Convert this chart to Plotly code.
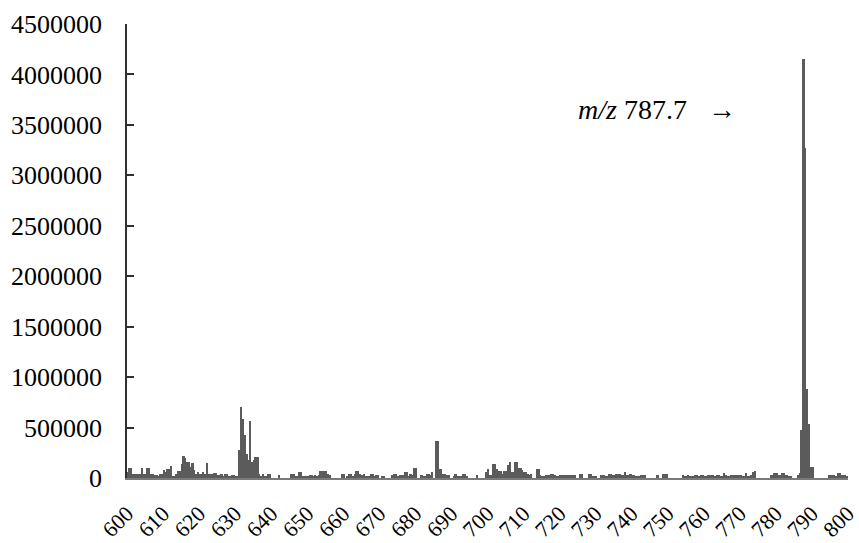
import plotly.graph_objects as go

# Mass spectrum, m/z 600-800, binned in 0.5 m/z steps (bin centres 600.25 ... 799.75)
mz_start = 600.25
mz_step = 0.5

# Intensity per bin, in thousands of counts; one row per 10 m/z units
int_600 = [60, 100, 100, 43, 43, 43, 43, 43, 100, 40, 40, 100, 100, 43, 43, 27, 27, 10, 43, 43]
int_610 = [76, 60, 86, 86, 119, 10, 10, 43, 66, 66, 142, 218, 198, 158, 158, 109, 152, 76, 43, 60]
int_620 = [43, 43, 60, 43, 150, 43, 43, 43, 53, 53, 26, 26, 43, 10, 43, 43, 10, 10, 26, 26]
int_630 = [10, 20, 274, 700, 582, 426, 241, 175, 562, 158, 175, 208, 208, 43, 10, 43, 10, 10, 43, 43]
int_640 = [0, 0, 0, 0, 26, 0, 0, 0, 0, 0, 0, 43, 43, 10, 10, 60, 60, 10, 10, 10]
int_650 = [10, 26, 26, 10, 26, 10, 26, 66, 66, 66, 66, 43, 26, 0, 0, 0, 0, 0, 0, 43]
int_660 = [43, 0, 10, 43, 43, 10, 43, 66, 66, 43, 26, 43, 10, 10, 10, 43, 43, 10, 26, 26]
int_670 = [0, 10, 10, 0, 0, 0, 0, 26, 43, 43, 10, 26, 26, 26, 60, 60, 10, 43, 26, 100]
int_680 = [100, 0, 0, 26, 10, 10, 43, 43, 26, 60, 0, 370, 370, 86, 86, 43, 43, 26, 26, 0]
int_690 = [0, 10, 43, 10, 10, 10, 43, 43, 10, 0, 0, 0, 0, 0, 26, 0, 0, 0, 0, 60]
int_700 = [86, 26, 26, 142, 142, 86, 66, 66, 43, 66, 66, 125, 158, 60, 60, 158, 158, 100, 95, 76]
int_710 = [60, 60, 43, 26, 43, 0, 0, 86, 86, 26, 10, 10, 26, 26, 26, 43, 43, 26, 10, 10]
int_720 = [26, 26, 33, 33, 33, 26, 26, 26, 26, 0, 0, 43, 43, 0, 0, 0, 43, 43, 10, 10]
int_730 = [10, 0, 0, 26, 26, 10, 10, 43, 43, 26, 26, 43, 43, 43, 26, 26, 60, 26, 26, 43]
int_740 = [26, 26, 10, 10, 10, 26, 26, 26, 0, 0, 0, 0, 0, 0, 26, 0, 0, 43, 43, 43]
int_750 = [0, 0, 0, 0, 0, 0, 0, 0, 30, 10, 10, 30, 10, 10, 10, 30, 30, 10, 30, 30]
int_760 = [10, 10, 30, 30, 30, 30, 10, 30, 30, 10, 10, 46, 30, 10, 10, 30, 30, 30, 30, 30]
int_770 = [30, 10, 10, 46, 10, 10, 30, 63, 69, 0, 0, 0, 0, 0, 0, 0, 0, 30, 30, 46]
int_780 = [46, 30, 30, 46, 46, 30, 30, 10, 10, 0, 0, 0, 30, 46, 480, 4150, 3270, 880, 540, 110]
int_790 = [110, 0, 0, 0, 0, 0, 0, 0, 0, 30, 30, 30, 30, 10, 46, 46, 30, 30, 30, 10]

rows = [int_600, int_610, int_620, int_630, int_640, int_650, int_660, int_670, int_680, int_690,
        int_700, int_710, int_720, int_730, int_740, int_750, int_760, int_770, int_780, int_790]
intensity = [v * 1000 for row in rows for v in row]
mz = [mz_start + mz_step * i for i in range(len(intensity))]

x_ticks = list(range(600, 801, 10))
y_ticks = list(range(0, 4500001, 500000))

peak_label = "<i>m/z</i> 787.7&nbsp;&nbsp;&nbsp;→"

serif = "Liberation Serif, Times New Roman, serif"

fig = go.Figure(
    go.Bar(
        x=mz,
        y=intensity,
        width=mz_step,
        marker=dict(color="#5b5b5b", line=dict(width=0)),
        hoverinfo="x+y",
    )
)

fig.update_layout(
    width=859,
    height=543,
    margin=dict(l=127, r=11, t=24, b=65, autoexpand=False),
    paper_bgcolor="white",
    plot_bgcolor="white",
    bargap=0,
    showlegend=False,
    font=dict(family=serif, size=26, color="black"),
)

fig.update_xaxes(
    range=[600, 800.05],
    automargin=False,
    tickmode="array",
    tickvals=x_ticks,
    ticktext=[str(t) for t in x_ticks],
    tickangle=-45,
    ticks="",
    showgrid=False,
    zeroline=False,
    showline=True,
    linecolor="#7a7a7a",
    linewidth=2,
    ticklabelstandoff=12,
    ticklabeloverflow="allow",
    tickfont=dict(family=serif, size=22, color="black"),
)

fig.update_yaxes(
    range=[0, 4500000],
    automargin=False,
    tickmode="array",
    tickvals=y_ticks,
    ticktext=[str(t) for t in y_ticks],
    ticks="inside",
    ticklen=7,
    tickwidth=1.5,
    tickcolor="#303030",
    showgrid=False,
    zeroline=False,
    showline=True,
    linecolor="#303030",
    linewidth=1.5,
    ticklabelstandoff=18,
    tickfont=dict(family=serif, size=26, color="black"),
)

fig.add_annotation(
    x=724.5,
    y=3650000,
    xref="x",
    yref="y",
    text=peak_label,
    showarrow=False,
    xanchor="left",
    yanchor="middle",
    font=dict(family=serif, size=28, color="black"),
)

fig.write_html("out.html")
